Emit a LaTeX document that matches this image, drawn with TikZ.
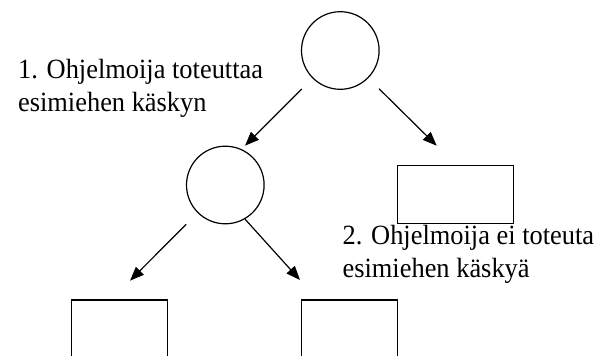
\documentclass[tikz,border=0pt]{standalone}
\usepackage{fontspec}
\setmainfont[FakeStretch=0.95]{Liberation Serif}
\usetikzlibrary{arrows.meta}

\begin{document}
\begin{tikzpicture}[x=1pt, y=-1pt, line width=1.2pt, >={Triangle[length=14pt, width=11pt]},
        circ/.style={draw, circle, minimum size=77.6pt, inner sep=0pt},
        txt/.style={anchor=base west, align=left, inner sep=0pt, font=\fontsize{27.8}{33}\selectfont}]
        \useasboundingbox (0,0) rectangle (611,356);
        \clip (0,0) rectangle (611,356);

        \node[circ] (1) at (340.3,50.5) {};
        \node[circ] (2) at (225.3,185) {};
        \node[draw, minimum width=116pt, minimum height=58pt, inner sep=0pt] (3) at (455.8,194.2) {};
        \node[draw, minimum width=96pt, minimum height=80pt, inner sep=0pt] (4) at (119.7,340) {};
        \node[draw, minimum width=96pt, minimum height=80pt, inner sep=0pt] (5) at (349.8,340) {};

        \node[txt] (l1) at (17.5,111.5) {1. Ohjelmoija toteuttaa\\esimiehen käskyn};
        \node[txt] (l2) at (342,277.5) {2. Ohjelmoija ei toteuta\\esimiehen käskyä};

        \coordinate (t2) at (245,145.7);
        \coordinate (t3) at (436.7,145.7);
        \coordinate (t4) at (130,280.7);
        \coordinate (t5) at (300,280);

        \draw[->, shorten <=15pt] (1) to (t2);
        \draw[->, shorten <=15pt] (1) to (t3);
        \draw[->, shorten <=16pt] (2) to (t4);
        \draw[->] (2.-60) to (t5);
    \end{tikzpicture}
\end{document}
